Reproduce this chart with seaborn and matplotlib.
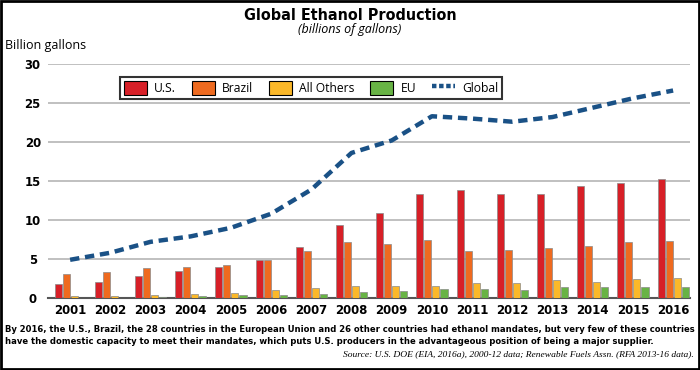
import numpy as np
import pandas as pd
import matplotlib
matplotlib.use("Agg")
import matplotlib.pyplot as plt
import seaborn as sns
from matplotlib.patches import Patch, Rectangle
from matplotlib.lines import Line2D

# data
years = [str(y) for y in range(2001, 2017)]
us = [1.77, 2.1, 2.8, 3.45, 3.92, 4.87, 6.55, 9.3, 10.95, 13.3, 13.9, 13.3, 13.3, 14.35, 14.8, 15.3]
brazil = [3.06, 3.3, 3.84, 3.97, 4.27, 4.83, 6.08, 7.24, 6.94, 7.5, 6.0, 6.2, 6.4, 6.7, 7.2, 7.37]
others = [0.2, 0.3, 0.43, 0.56, 0.65, 1.03, 1.29, 1.55, 1.55, 1.55, 1.9, 1.94, 2.37, 2.07, 2.41, 2.59]
eu = [0.05, 0.05, 0.13, 0.26, 0.39, 0.43, 0.56, 0.73, 0.95, 1.16, 1.16, 1.03, 1.38, 1.47, 1.47, 1.47]
global_total = [4.9, 5.8, 7.2, 7.9, 9.0, 10.8, 13.9, 18.6, 20.2, 23.3, 23.0, 22.6, 23.2, 24.4, 25.6, 26.6]
series = ["U.S.", "Brazil", "All Others", "EU"]
colors = ["#d71f27", "#ee6a1f", "#fbb829", "#68b345"]

df = pd.DataFrame({"U.S.": us, "Brazil": brazil, "All Others": others, "EU": eu}, index=years)
long = df.reset_index(names="Year").melt(id_vars="Year", var_name="Region", value_name="Value")

sns.set_theme(style="white")
plt.rcParams["font.family"] = ["Open Sans", "DejaVu Sans"]
plt.rcParams["text.color"] = "black"
plt.rcParams["xtick.color"] = "black"
plt.rcParams["ytick.color"] = "black"
narrow = dict(family="DejaVu Sans", stretch="condensed", weight="bold")

fig = plt.figure(figsize=(7, 3.7), dpi=100)
ax = fig.add_axes([48 / 700, 1 - 298 / 370, 642 / 700, 234 / 370])

sns.barplot(data=long, x="Year", y="Value", hue="Region", hue_order=series,
            palette=colors, saturation=1, width=0.8, gap=0.12, edgecolor="#8a8a8a",
            linewidth=0.5, legend=False, ax=ax, zorder=3)
sns.lineplot(x=np.arange(len(years)), y=global_total, ax=ax, color="#1a5186",
             linewidth=3.2, zorder=4)
ax.lines[-1].set_dashes((2.1, 1.3))
ax.lines[-1].set_dash_capstyle("butt")

ax.set_ylim(0, 30)
ax.set_xlim(-0.55, 15.42)
ax.set_yticks([0, 5, 10, 15, 20, 25, 30])
ax.yaxis.grid(True, color="#b5b5b5", linewidth=1.2, zorder=0)
ax.set_axisbelow(True)
for s in ["top", "right", "left"]:
    ax.spines[s].set_visible(False)
ax.spines["bottom"].set_color("#555555")
ax.spines["bottom"].set_linewidth(1.5)
ax.tick_params(axis="both", length=0, pad=4, labelcolor="black")
ax.set_xlabel("")
ax.set_ylabel("")
for lab in ax.get_xticklabels() + ax.get_yticklabels():
    lab.set_fontproperties(narrow)
    lab.set_fontsize(9.4)
ax.tick_params(axis="y", pad=11)
for lab in ax.get_yticklabels():
    lab.set_horizontalalignment("center")

handles = [Patch(facecolor=c, edgecolor="black", linewidth=0.8) for c in colors]
handles.append(Line2D([0], [0], color="#1a5186", linewidth=3.2, dashes=(1.0, 0.6)))
leg = fig.legend(handles, series + ["Global"], loc="center", ncol=5,
                 bbox_to_anchor=(311 / 700, 1 - 88 / 370), frameon=True, fancybox=False,
                 fontsize=8.7, handlelength=1.9, handleheight=1.4, columnspacing=1.3,
                 handletextpad=0.6, borderpad=0.3, borderaxespad=0, labelcolor="black")
leg.get_frame().set_edgecolor("black")
leg.get_frame().set_linewidth(1.5)
leg.set_zorder(10)

fig.text(0.5, 1 - 15 / 370, "Global Ethanol Production", ha="center", va="center",
         fontsize=11.5, **narrow)
fig.text(0.5, 1 - 30 / 370, "(billions of gallons)", ha="center", va="center",
         fontsize=9, style="italic")
fig.text(5 / 700, 1 - 45 / 370, "Billion gallons", ha="left", va="center", fontsize=9)

caption = ("By 2016, the U.S., Brazil, the 28 countries in the European Union and 26 other countries had ethanol mandates, but very few of these countries\n"
           "have the domestic capacity to meet their mandates, which puts U.S. producers in the advantageous position of being a major supplier.")
fig.text(5 / 700, 1 - 325 / 370, caption, ha="left", va="top", fontsize=6.75,
         linespacing=1.45, **narrow)
fig.text(694 / 700, 1 - 354 / 370,
         "Source: U.S. DOE (EIA, 2016a), 2000-12 data; Renewable Fuels Assn. (RFA 2013-16 data).",
         ha="right", va="center", fontsize=6.8, style="italic",
         family=["Liberation Serif", "DejaVu Serif"])

fig.patches.append(Rectangle((0.002, 0.003), 0.996, 0.994, transform=fig.transFigure,
                             fill=False, edgecolor="black", linewidth=2))

fig.savefig("out.png", dpi=100)
